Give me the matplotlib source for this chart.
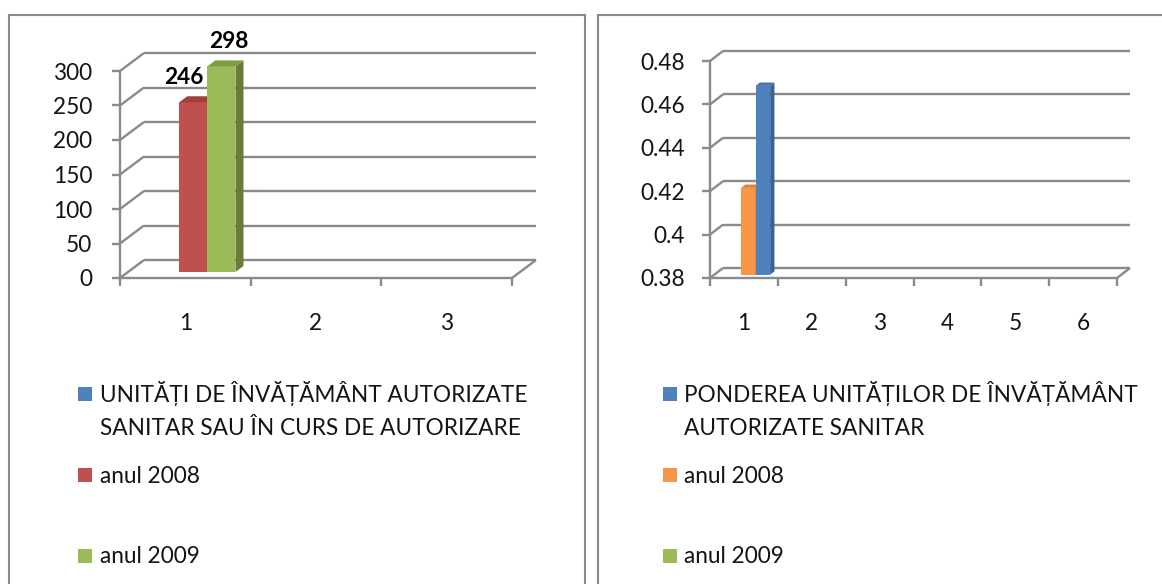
import numpy as np
import matplotlib
matplotlib.use('Agg')
import matplotlib.pyplot as plt
from matplotlib.patches import Rectangle
from matplotlib.lines import Line2D

plt.rcParams['font.family'] = ['Lato', 'Noto Sans', 'DejaVu Sans']

W, H, DPI = 1162, 584, 100
nan = np.nan

# ---------------- data ----------------
left_categories = ['1', '2', '3']
left_series = ['UNITĂȚI DE ÎNVĂȚĂMÂNT AUTORIZATE\nSANITAR SAU ÎN CURS DE AUTORIZARE',
               'anul 2008', 'anul 2009']
left_unitati = [nan, nan, nan]
left_2008 = [246, nan, nan]
left_2009 = [298, nan, nan]
left_yticks = [0, 50, 100, 150, 200, 250, 300]
left_yticklabels = ['0', '50', '100', '150', '200', '250', '300']

right_categories = ['1', '2', '3', '4', '5', '6']
right_series = ['PONDEREA UNITĂȚILOR DE ÎNVĂȚĂMÂNT\nAUTORIZATE SANITAR',
                'anul 2008', 'anul 2009']
right_slot1 = [nan, nan, nan, nan, nan, nan]
right_slot2 = [0.42, nan, nan, nan, nan, nan]
right_slot3 = [0.467, nan, nan, nan, nan, nan]
right_yticks = [0.38, 0.40, 0.42, 0.44, 0.46, 0.48]
right_yticklabels = ['0.38', '0.4', '0.42', '0.44', '0.46', '0.48']

# ---------------- style ----------------
BLUE, RED, GREEN, ORANGE = '#4F81BD', '#C0504D', '#9BBB59', '#F79646'
SIDE = {BLUE: '#3A6397', RED: '#8E3331', GREEN: '#677D38', ORANGE: '#C9732E'}
TOP = {BLUE: '#4675AE', RED: '#A23F3C', GREEN: '#7F9C45', ORANGE: '#DE8237'}
GRID = '#8a8a8a'
TXT = '#141414'
FS = 16.3

fig = plt.figure(figsize=(W / DPI, H / DPI), dpi=DPI)
fig.patch.set_facecolor('white')


def fx(x):
    return x / W


def fy(y):
    return (H - y) / H


def draw_chart(rect_px, ylim, yticks, yticklabels, cats, slots, colors,
               depth_px, ypad, labels=None):
    l, r, t, b = rect_px
    ax = fig.add_axes([fx(l), fy(b), (r - l) / W, (b - t) / H])
    n = len(cats)
    ax.set_xlim(0, n)
    ax.set_ylim(*ylim)
    ax.patch.set_visible(False)
    sx = n / (r - l)
    sy = (ylim[1] - ylim[0]) / (b - t)
    ddx, ddy = depth_px[0] * sx, depth_px[1] * sy
    y0 = ylim[0]
    kw = dict(color=GRID, lw=1.7, clip_on=False, solid_capstyle='butt', zorder=1)
    # back wall gridlines and left wall diagonals
    for v in yticks:
        ax.plot([ddx, n + ddx], [v + ddy, v + ddy], **kw)
        ax.plot([0, ddx], [v, v + ddy], **kw)
    # floor right diagonal
    ax.plot([n, n + ddx], [y0, y0 + ddy], **kw)

    # bars
    w = 0.215
    f0, f1 = 1 / 3, 2 / 3
    for k, (vals, col) in enumerate(zip(slots, colors)):
        for i, v in enumerate(vals):
            if np.isnan(v):
                continue
            x0 = i + 0.5 - 1.5 * w + k * w
            x1 = x0 + w
            ax.bar(x0 + f0 * ddx, v - y0, width=w, bottom=y0 + f0 * ddy,
                   align='edge', color=col, lw=0, zorder=3 + k, clip_on=False)
            ax.fill([x1 + f0 * ddx, x1 + f1 * ddx, x1 + f1 * ddx, x1 + f0 * ddx],
                    [y0 + f0 * ddy, y0 + f1 * ddy, v + f1 * ddy, v + f0 * ddy],
                    color=SIDE[col], lw=0, zorder=3 + k, clip_on=False)
            ax.fill([x0 + f0 * ddx, x1 + f0 * ddx, x1 + f1 * ddx, x0 + f1 * ddx],
                    [v + f0 * ddy, v + f0 * ddy, v + f1 * ddy, v + f1 * ddy],
                    color=TOP[col], lw=0, zorder=3 + k, clip_on=False)
            if labels is not None and labels[k] is not None:
                ax.annotate(f'{v:g}', ((x0 + x1) / 2 + f0 * ddx, v + f1 * ddy),
                            xytext=(labels[k], 9), textcoords='offset points',
                            ha='center', va='baseline', fontsize=FS,
                            fontweight='bold', color='black', zorder=10,
                            annotation_clip=False)

    # spines
    for s in ['top', 'right']:
        ax.spines[s].set_visible(False)
    for s in ['left', 'bottom']:
        ax.spines[s].set_color(GRID)
        ax.spines[s].set_linewidth(1.7)
        ax.spines[s].set_zorder(2)
    ax.set_yticks(yticks)
    ax.set_yticklabels(yticklabels)
    ax.set_xticks(np.arange(n + 1))
    ax.set_xticklabels([])
    ax.set_xticks(np.arange(n) + 0.5, minor=True)
    ax.set_xticklabels(cats, minor=True)
    ax.tick_params(axis='both', which='major', direction='out', length=6,
                   width=1.7, color=GRID, labelsize=FS, labelcolor=TXT)
    ax.tick_params(axis='y', pad=ypad)
    ax.tick_params(axis='x', which='minor', length=0, pad=25,
                   labelsize=FS, labelcolor=TXT)
    return ax


draw_chart((120, 512, 71, 278), (0, 300), left_yticks, left_yticklabels,
           left_categories, [left_unitati, left_2008, left_2009],
           [BLUE, RED, GREEN], (24, 18), 14, labels=[None, -7, 5])

draw_chart((710, 1117, 61, 278), (0.38, 0.48), right_yticks, right_yticklabels,
           right_categories, [right_slot1, right_slot2, right_slot3],
           [BLUE, ORANGE, BLUE], (13, 10), 12)


# ---------------- legends ----------------
def legend(series, colors, sq_x, txt_x):
    rows = [(394, [402, 435]), (475, [483]), (556, [563])]
    for name, col, (cy, bases) in zip(series, colors, rows):
        fig.add_artist(Rectangle((fx(sq_x), fy(cy + 7)), 14 / W, 14 / H,
                                 transform=fig.transFigure, color=col, lw=0))
        for line, by in zip(name.split('\n'), bases):
            fig.text(fx(txt_x), fy(by), line, fontsize=FS, color=TXT,
                     ha='left', va='baseline')


legend(left_series, [BLUE, RED, GREEN], 78, 100)
legend(right_series, [BLUE, ORANGE, GREEN], 663, 684)

# ---------------- panel borders ----------------
bkw = dict(transform=fig.transFigure, color=GRID, lw=1.5, solid_capstyle='projecting')
fig.add_artist(Line2D([fx(9), fx(585)], [fy(15), fy(15)], **bkw))
fig.add_artist(Line2D([fx(9), fx(9)], [fy(15), fy(590)], **bkw))
fig.add_artist(Line2D([fx(585), fx(585)], [fy(15), fy(590)], **bkw))
fig.add_artist(Line2D([fx(598), fx(1170)], [fy(15), fy(15)], **bkw))
fig.add_artist(Line2D([fx(598), fx(598)], [fy(15), fy(590)], **bkw))

fig.savefig('out.png', dpi=DPI, facecolor='white')
